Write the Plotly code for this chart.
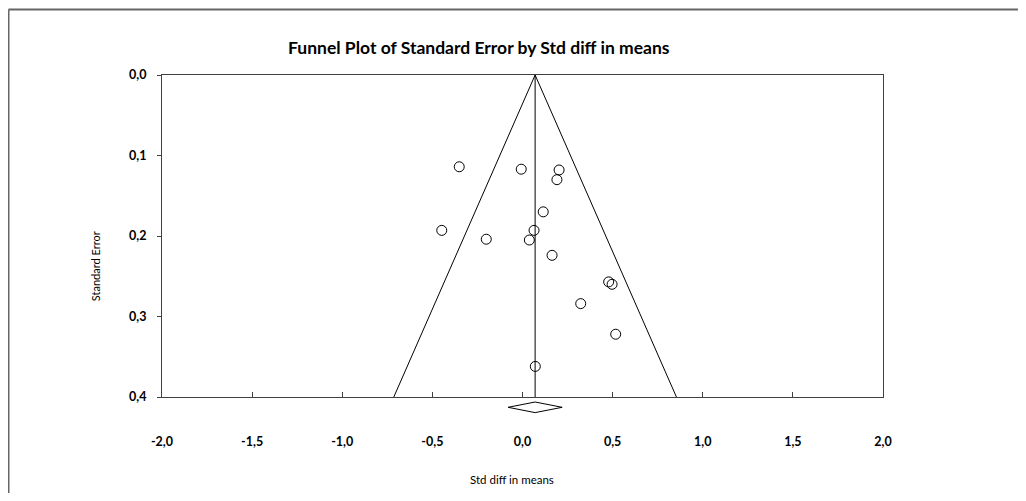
import plotly.graph_objects as go

# Study data: standardized difference in means and its standard error
std_diff = [-0.351, -0.007, 0.203, 0.191, 0.115, -0.448, 0.064, -0.201, 0.038,
            0.164, 0.478, 0.497, 0.323, 0.517, 0.071]
std_err = [0.114, 0.117, 0.118, 0.130, 0.170, 0.193, 0.193, 0.204, 0.205,
           0.224, 0.257, 0.260, 0.284, 0.322, 0.362]

# Pooled estimate and its confidence interval
pooled = 0.07
pooled_lo = -0.08
pooled_hi = 0.22
z = 1.96
se_max = 0.4

x_ticks = [-2.0, -1.5, -1.0, -0.5, 0.0, 0.5, 1.0, 1.5, 2.0]
x_tick_labels = ["-2,0", "-1,5", "-1,0", "-0,5", "0,0", "0,5", "1,0", "1,5", "2,0"]
y_ticks = [0.0, 0.1, 0.2, 0.3, 0.4]
y_tick_labels = ["0,0", "0,1", "0,2", "0,3", "0,4"]

FONT = "Lato, sans-serif"

# plot area in page pixels (page has an 8px body margin)
PL, PR, PT, PB = 162, 883, 75, 396.7
PW, PH = PR - PL, PB - PT
FW, FH = 1010, 485


def px(xp):
    return (xp - PL) / PW


def py(yp):
    return (PB - yp) / PH


fig = go.Figure()

# funnel lines
fig.add_trace(go.Scatter(
    x=[pooled - z * se_max, pooled, pooled + z * se_max],
    y=[se_max, 0, se_max],
    mode="lines", line=dict(color="black", width=1),
    hoverinfo="skip", showlegend=False))
# vertical line at pooled estimate
fig.add_trace(go.Scatter(
    x=[pooled, pooled], y=[0, se_max],
    mode="lines", line=dict(color="black", width=1),
    hoverinfo="skip", showlegend=False))
# studies
fig.add_trace(go.Scatter(
    x=std_diff, y=std_err, mode="markers",
    marker=dict(symbol="circle-open", size=10, color="black", line=dict(width=1)),
    showlegend=False))

# diamond below axis (x in data, y in paper)
yc, yh = py(407), 5.3 / PH
fig.add_shape(type="path", xref="x", yref="paper",
              path=f"M {pooled_lo},{yc} L {pooled},{yc+yh} L {pooled_hi},{yc} L {pooled},{yc-yh} Z",
              line=dict(color="black", width=1), fillcolor="white")

# outer frame (top and left edges)
fig.add_shape(type="line", xref="paper", yref="paper", x0=px(8.5), x1=px(1030), y0=py(9.5), y1=py(9.5),
              line=dict(color="#666666", width=2))
fig.add_shape(type="line", xref="paper", yref="paper", x0=px(8.5), x1=px(8.5), y0=py(9.5), y1=py(505),
              line=dict(color="#666666", width=2))

fig.update_layout(
    width=FW, height=FH,
    margin=dict(l=PL - 8, r=FW + 8 - PR, t=PT - 8, b=FH + 8 - PB),
    paper_bgcolor="white", plot_bgcolor="white",
    font=dict(family=FONT, color="black"),
    xaxis=dict(range=[-2, 2], tickvals=x_ticks, ticktext=x_tick_labels,
               ticks="inside", ticklen=5, tickcolor="#404040",
               ticklabelstandoff=33,
               showgrid=False, zeroline=False,
               showline=True, linecolor="#404040", linewidth=1, mirror=True,
               tickfont=dict(size=12.5, family=FONT, weight="bold")),
    yaxis=dict(range=[0.4, 0], tickvals=y_ticks, ticktext=y_tick_labels,
               ticks="outside", ticklen=4, tickcolor="#404040",
               ticklabelstandoff=8,
               showgrid=False, zeroline=False,
               showline=True, linecolor="#404040", linewidth=1, mirror=True,
               tickfont=dict(size=12.5, family=FONT, weight="bold")),
    annotations=[
        dict(text="<b>Funnel Plot of Standard Error by Std diff in means</b>",
             xref="paper", yref="paper", x=px(479), y=py(48),
             xanchor="center", yanchor="middle", showarrow=False,
             font=dict(size=17.5, family=FONT)),
        dict(text="Std diff in means",
             xref="paper", yref="paper", x=px(512), y=py(479),
             xanchor="center", yanchor="middle", showarrow=False,
             font=dict(size=11.5, family=FONT)),
        dict(text="Standard Error", textangle=-90,
             xref="paper", yref="paper", x=px(95), y=py(266),
             xanchor="center", yanchor="middle", showarrow=False,
             font=dict(size=11, family=FONT)),
    ],
)

fig.write_html("out.html")
